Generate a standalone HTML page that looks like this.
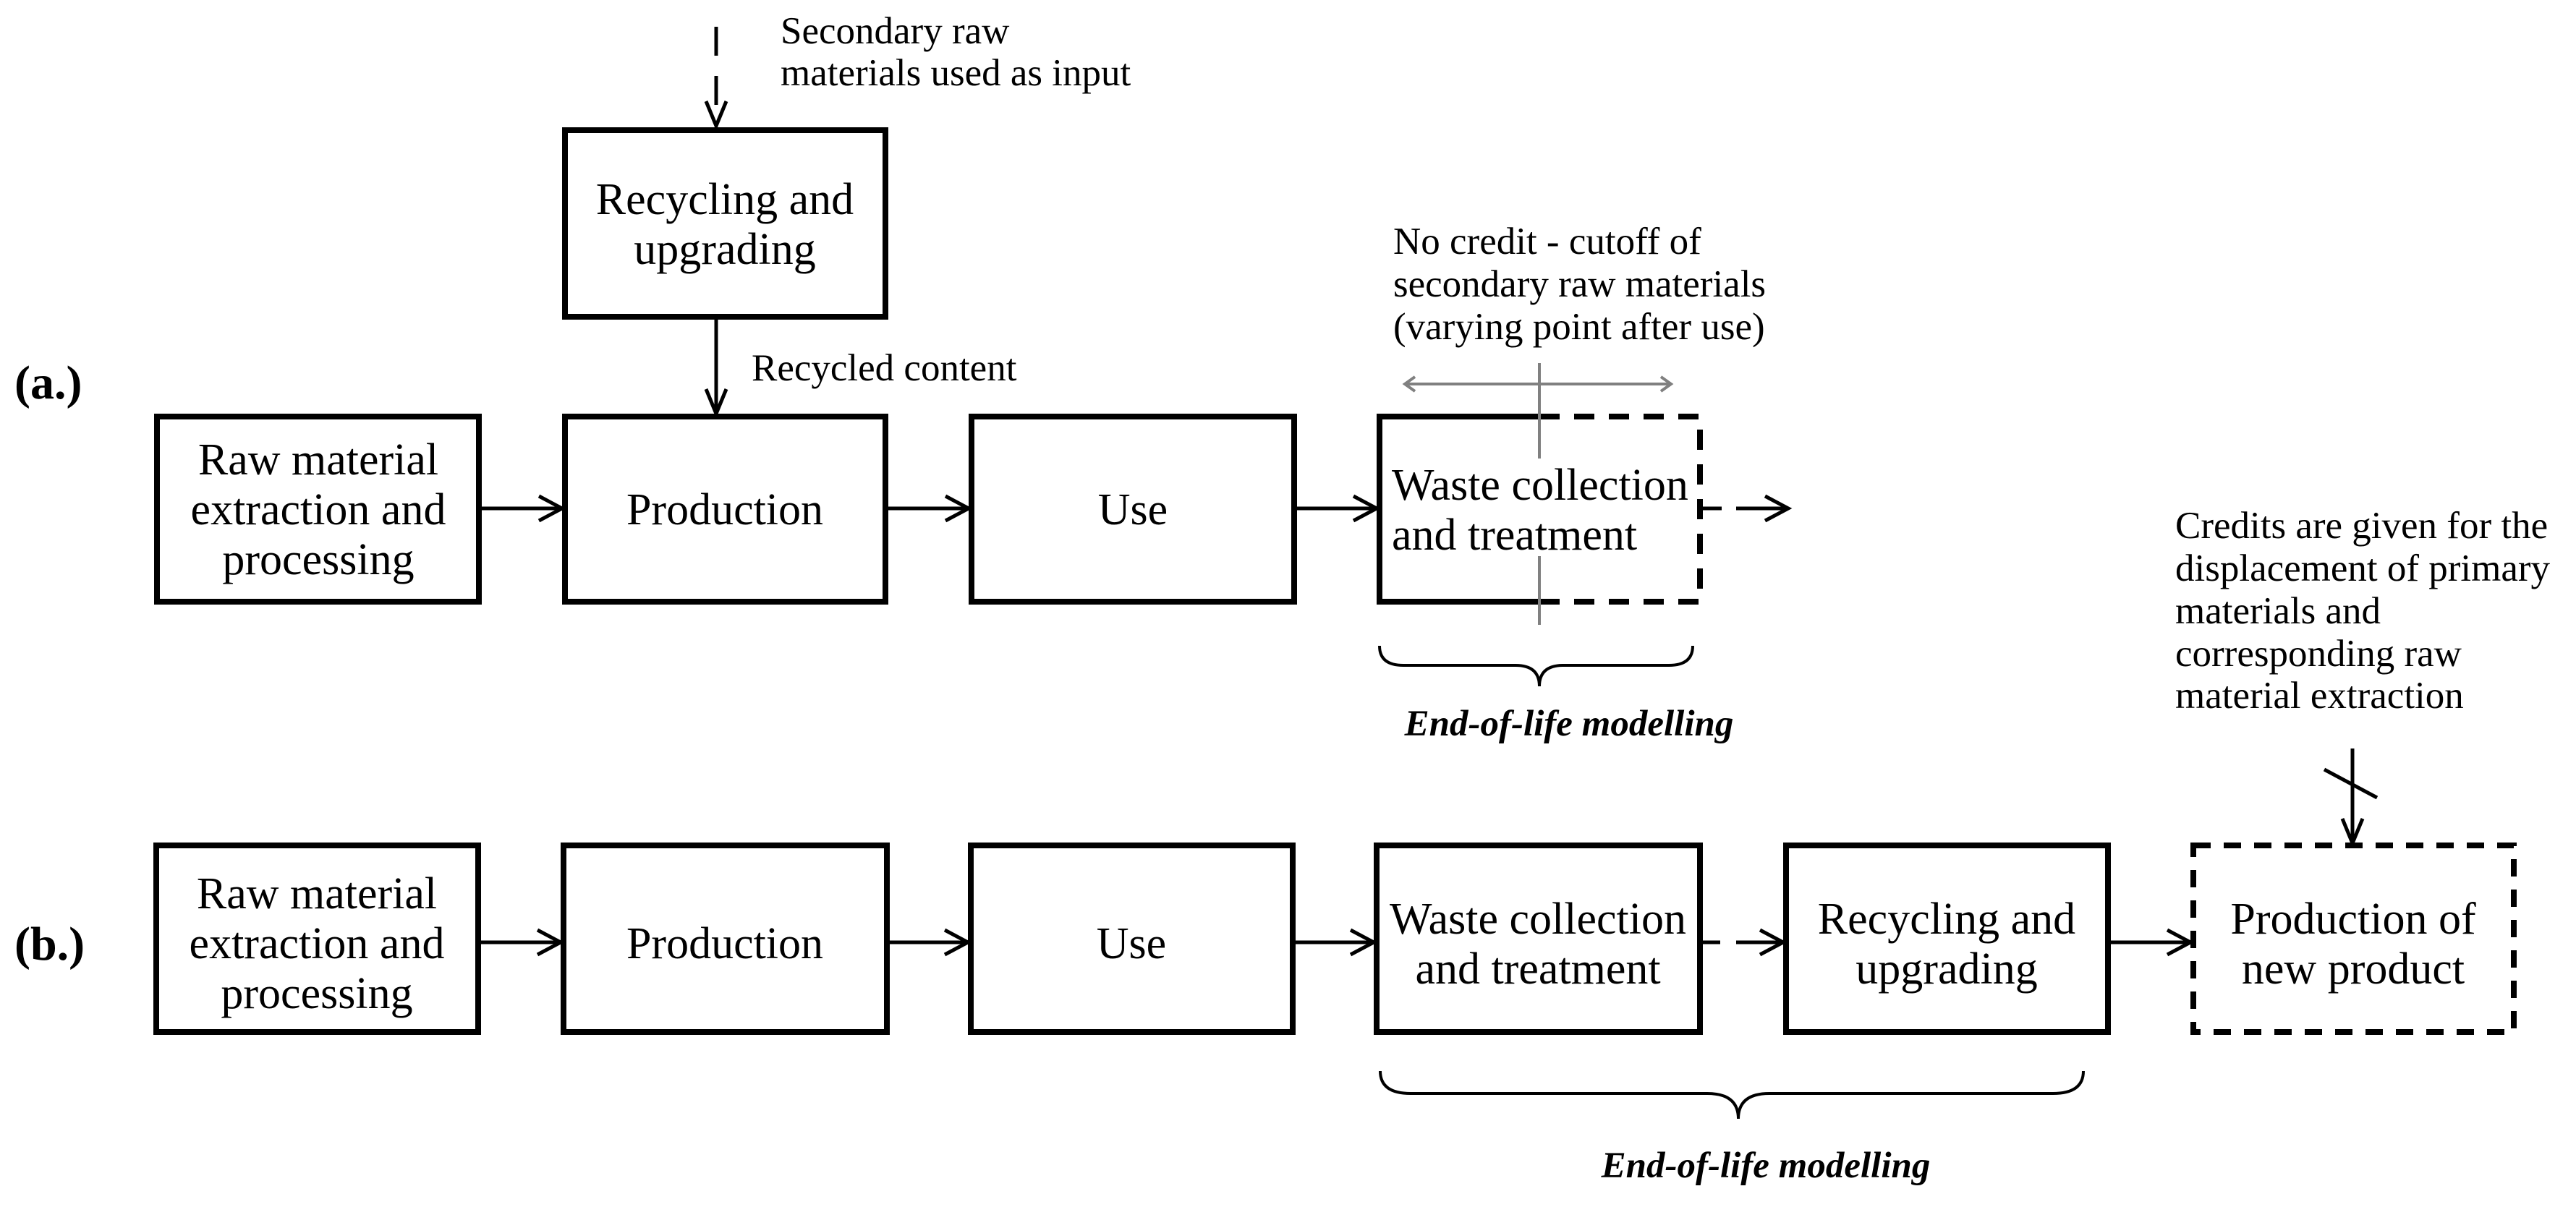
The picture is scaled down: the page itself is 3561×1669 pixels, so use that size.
<!DOCTYPE html>
<html><head><meta charset="utf-8"><style>html,body{margin:0;padding:0;background:#fff}svg{display:block}</style></head>
<body>
<svg width="3561" height="1669" viewBox="0 0 3561 1669" xmlns="http://www.w3.org/2000/svg" font-family="'Liberation Serif', serif">
<g fill="none" stroke="#000" stroke-width="8" stroke-linecap="square">
  <rect x="781" y="180" width="443" height="258"/>
  <rect x="217" y="576" width="445" height="256"/>
  <rect x="781" y="576" width="443" height="256"/>
  <rect x="1343" y="576" width="446" height="256"/>
  <polyline points="2128,576 1907,576 1907,832 2128,832"/>
  <polyline points="2128,576 2350,576 2350,832 2128,832" stroke-dasharray="28,20" stroke-linecap="butt"/>
  <rect x="216" y="1169" width="445" height="258"/>
  <rect x="779" y="1169" width="447" height="258"/>
  <rect x="1342" y="1169" width="445" height="258"/>
  <rect x="1903" y="1169" width="447" height="258"/>
  <rect x="2469" y="1169" width="445" height="258"/>
  <rect x="3032" y="1169" width="443" height="258" stroke-dasharray="24,18" stroke-linecap="butt"/>
</g>
<g fill="none" stroke="#000" stroke-width="5">
  <line x1="990" y1="37" x2="990" y2="172" stroke-dasharray="40,28"/>
  <polyline points="976,140 990,174 1004,140"/>
  <line x1="990" y1="440" x2="990" y2="572"/>
  <polyline points="976,538 990,572 1004,538"/>
  <line x1="664" y1="703" x2="776" y2="703"/>
  <polyline points="745,686 777,703 745,720"/>
  <line x1="1226" y1="703" x2="1338" y2="703"/>
  <polyline points="1307,686 1339,703 1307,720"/>
  <line x1="1791" y1="703" x2="1902" y2="703"/>
  <polyline points="1871,686 1903,703 1871,720"/>
  <line x1="2352" y1="703" x2="2380" y2="703"/>
  <line x1="2400" y1="703" x2="2470" y2="703"/>
  <polyline points="2440,686 2472,703 2440,720"/>
  <line x1="663" y1="1303" x2="774" y2="1303"/>
  <polyline points="743,1286 775,1303 743,1320"/>
  <line x1="1228" y1="1303" x2="1337" y2="1303"/>
  <polyline points="1306,1286 1338,1303 1306,1320"/>
  <line x1="1789" y1="1303" x2="1898" y2="1303"/>
  <polyline points="1867,1286 1899,1303 1867,1320"/>
  <line x1="2352" y1="1303" x2="2378" y2="1303"/>
  <line x1="2400" y1="1303" x2="2464" y2="1303"/>
  <polyline points="2433,1286 2465,1303 2433,1320"/>
  <line x1="2916" y1="1303" x2="3027" y2="1303"/>
  <polyline points="2996,1286 3028,1303 2996,1320"/>
  <line x1="3252" y1="1035" x2="3252" y2="1166"/>
  <polyline points="3238,1132 3252,1166 3266,1132"/>
  <line x1="3213" y1="1064" x2="3286" y2="1103"/>
  <path d="M1907,893 Q1907,920 1940,920 L2095,920 Q2128,920 2128,949 Q2128,920 2161,920 L2307,920 Q2340,920 2340,893" stroke-width="4"/>
  <path d="M1908,1481 Q1908,1512 1950,1512 L2360,1512 Q2403,1512 2403,1547 Q2403,1512 2446,1512 L2838,1512 Q2880,1512 2880,1481" stroke-width="4"/>
</g>
<g stroke="#808080" stroke-width="4" fill="none">
  <line x1="2128" y1="502" x2="2128" y2="634"/>
  <line x1="2128" y1="769" x2="2128" y2="864"/>
  <line x1="1944" y1="531" x2="2308" y2="531"/>
  <polyline points="1956,521 1942,531 1956,541"/>
  <polyline points="2296,521 2310,531 2296,541"/>
</g>
<g font-size="62" text-anchor="middle" fill="#000">
  <text x="1002" y="296">Recycling and</text><text x="1002" y="365">upgrading</text>
  <text x="440" y="656">Raw material</text><text x="440" y="725">extraction and</text><text x="440" y="794">processing</text>
  <text x="1002" y="725">Production</text>
  <text x="1566" y="725">Use</text>
  <text x="438" y="1256">Raw material</text><text x="438" y="1325">extraction and</text><text x="438" y="1394">processing</text>
  <text x="1002" y="1325">Production</text>
  <text x="1564" y="1325">Use</text>
  <text x="2126" y="1291">Waste collection</text><text x="2126" y="1360">and treatment</text>
  <text x="2691" y="1291">Recycling and</text><text x="2691" y="1360">upgrading</text>
  <text x="3253" y="1291">Production of</text><text x="3253" y="1360">new product</text>
</g>
<g font-size="62" fill="#000">
  <text x="1924" y="691">Waste collection</text><text x="1924" y="760">and treatment</text>
</g>
<g font-size="53" fill="#000">
  <text x="1079" y="60">Secondary raw</text>
  <text x="1079" y="118">materials used as input</text>
  <text x="1039" y="526">Recycled content</text>
  <text x="1926" y="351">No credit - cutoff of</text>
  <text x="1926" y="410">secondary raw materials</text>
  <text x="1926" y="469">(varying point after use)</text>
  <text x="3007" y="744">Credits are given for the</text>
  <text x="3007" y="803">displacement of primary</text>
  <text x="3007" y="862">materials and</text>
  <text x="3007" y="921">corresponding raw</text>
  <text x="3007" y="979">material extraction</text>
</g>
<g font-size="51" font-weight="bold" font-style="italic" text-anchor="middle" fill="#000">
  <text x="2169" y="1017">End-of-life modelling</text>
  <text x="2441" y="1628">End-of-life modelling</text>
</g>
<g font-size="66" font-weight="bold" fill="#000">
  <text x="20" y="551">(a.)</text>
  <text x="20" y="1327">(b.)</text>
</g>
</svg>
</body></html>
